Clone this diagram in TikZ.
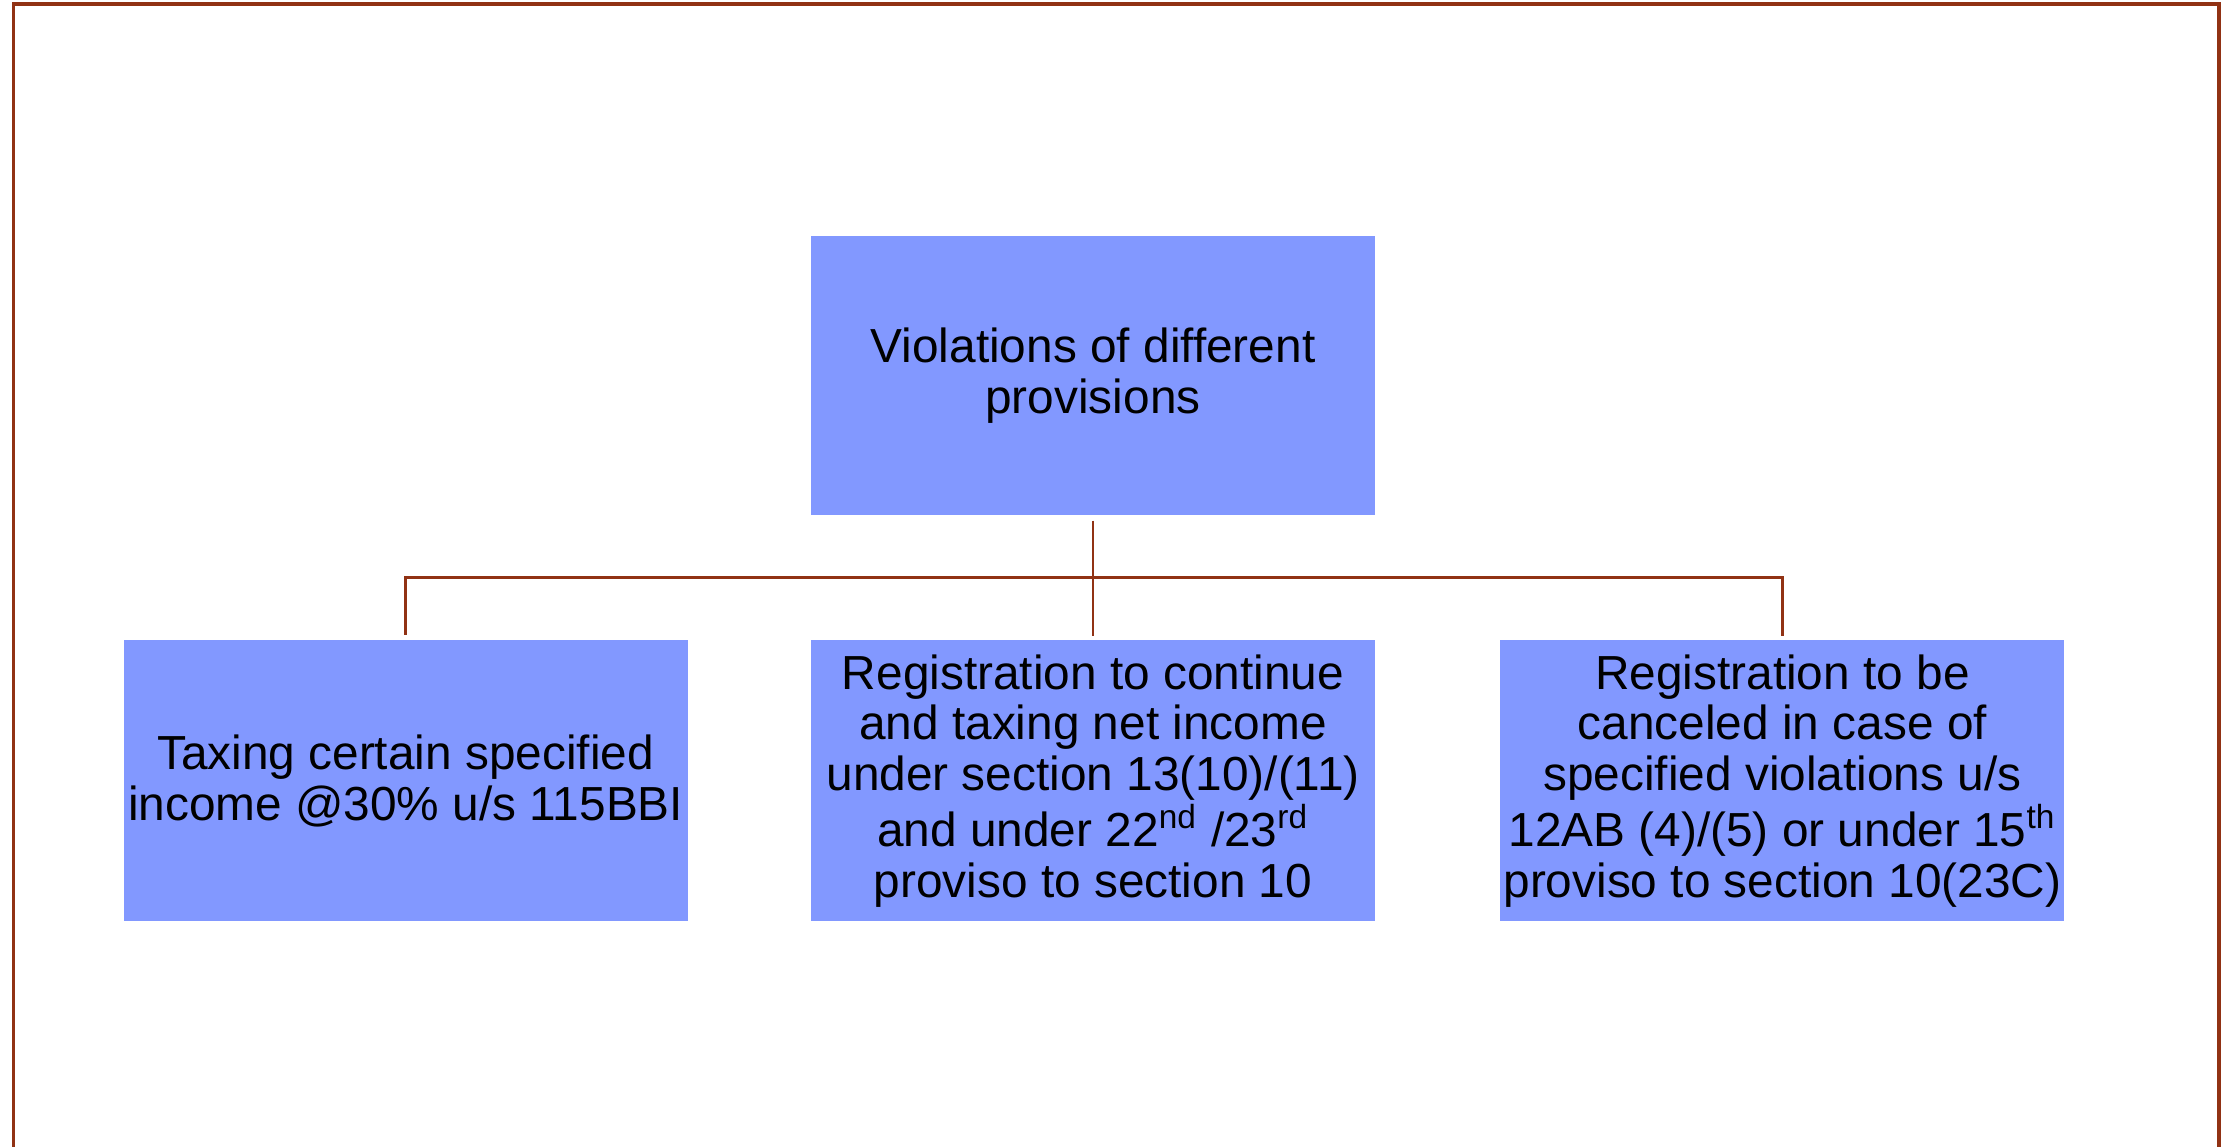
\documentclass[tikz,border=0pt]{standalone}
\usepackage{fontspec}
\setmainfont{Liberation Sans}
\usetikzlibrary{positioning,calc}

\definecolor{boxblue}{RGB}{130,152,255}
\definecolor{linebrown}{RGB}{145,50,20}

\tikzstyle{rootblock} = [rectangle, minimum width=5.64cm, minimum height=2.79cm, inner sep=0pt, fill=boxblue, align=center, font=\fontsize{13.6}{14.4}\selectfont]
\tikzstyle{leafblock} = [rectangle, minimum width=5.64cm, minimum height=2.81cm, inner sep=0pt, fill=boxblue, align=center, font=\fontsize{13.6}{14.4}\selectfont]
\tikzstyle{link}      = [draw=linebrown, line width=0.8pt, shorten <=0.05cm, shorten >=0.04cm]
\tikzstyle{frame}     = [draw=linebrown, line width=1pt]

\begin{document}
\begin{tikzpicture}[node distance=1.23cm]
        \useasboundingbox (0,0) rectangle (22.32,11.46);
        \draw[frame] (0.135,-0.1) -- (0.135,11.42) -- (22.19,11.42) -- (22.19,-0.1);
        \node (root)  [rootblock] at (10.93,7.705)  {Violations of different\\provisions};
        \node (mid)   [leafblock, below=1.24cm of root] {Registration to continue\\and taxing net income\\under section 13(10)/(11)\\and under 22\textsuperscript{nd} /23\textsuperscript{rd}\\proviso to section 10};
        \node (left)  [leafblock, left=1.22cm of mid]   {Taxing certain specified\\income @30\% u/s 115BBI};
        \node (right) [leafblock, right=1.24cm of mid]  {Registration to be\\canceled in case of\\specified violations u/s\\12AB (4)/(5) or under 15\textsuperscript{th}\\proviso to section 10(23C)};
        \coordinate (bus) at ($(root.south)!0.5!(mid.north)$);
        \draw[link] (root)  -- (mid);
        \draw[link] (left)  |- (bus) -| (right);
    \end{tikzpicture}
\end{document}
